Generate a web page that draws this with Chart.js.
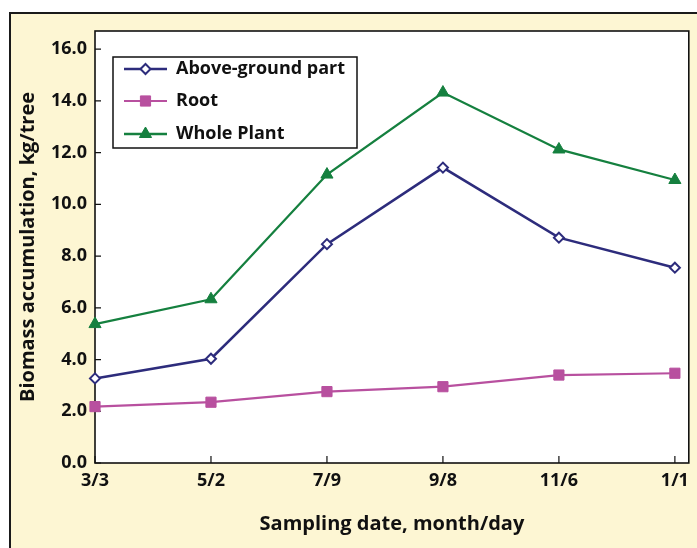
<!DOCTYPE html>
<html>
<head>
<meta charset="utf-8">
<script src="https://cdn.jsdelivr.net/npm/chart.js@4.4.1/dist/chart.umd.min.js"></script>
<style>
  html, body { margin: 0; padding: 0; background: #ffffff; width: 697px; height: 548px; overflow: hidden; }
  #frame { position: absolute; left: 9px; top: 12px; width: 720px; height: 580px; background: #fdf6d3; border: 2px solid #1a1a1a; box-sizing: border-box; }
  #c { position: absolute; left: 0; top: 0; }
</style>
</head>
<body>
<div id="frame"></div>
<canvas id="c" width="697" height="548"></canvas>
<script>
const categories = ['3/3', '5/2', '7/9', '9/8', '11/6', '1/1'];
const aboveGround = [3.27, 4.03, 8.46, 11.42, 8.71, 7.55];
const root = [2.18, 2.35, 2.76, 2.95, 3.40, 3.47];
const wholePlant = [5.37, 6.33, 11.15, 14.32, 12.12, 10.94];
const seriesLabels = ['Above-ground part', 'Root', 'Whole Plant'];
const yTicks = [0, 2, 4, 6, 8, 10, 12, 14, 16];

const FONT = '"Open Sans", Lato, sans-serif';
const toXY = arr => arr.map((v, i) => ({ x: i, y: v }));

const plotFrame = {
  id: 'plotFrame',
  beforeDraw(chart) {
    const { ctx, chartArea: a } = chart;
    ctx.save();
    ctx.fillStyle = '#ffffff';
    ctx.fillRect(a.left, a.top, a.right - a.left, a.bottom - a.top);
    ctx.restore();
  },
  beforeDatasetsDraw(chart) {
    const { ctx, chartArea: a, scales } = chart;
    ctx.save();
    ctx.strokeStyle = '#111111';
    ctx.lineWidth = 1.6;
    ctx.strokeRect(a.left, a.top, a.right - a.left, a.bottom - a.top);
    ctx.lineWidth = 1.2;
    ctx.beginPath();
    yTicks.forEach(v => {
      const y = scales.y.getPixelForValue(v);
      ctx.moveTo(a.left, y); ctx.lineTo(a.left + 6, y);
    });
    categories.forEach((c, i) => {
      const x = scales.x.getPixelForValue(i);
      ctx.moveTo(x, a.bottom); ctx.lineTo(x, a.bottom - 7);
    });
    ctx.stroke();
    ctx.restore();
  },
  afterDraw(chart) {
    const { ctx } = chart;
    const bx = 113, by = 57, bw = 244, bh = 91;
    ctx.save();
    ctx.fillStyle = '#ffffff';
    ctx.fillRect(bx, by, bw, bh);
    ctx.strokeStyle = '#111111';
    ctx.lineWidth = 1.5;
    ctx.strokeRect(bx, by, bw, bh);
    const rows = [69, 101, 134];
    chart.data.datasets.forEach((ds, i) => {
      const y = rows[i];
      ctx.strokeStyle = ds.borderColor;
      ctx.lineWidth = ds.borderWidth;
      ctx.beginPath(); ctx.moveTo(124, y); ctx.lineTo(167, y); ctx.stroke();
      ctx.fillStyle = ds.pointBackgroundColor;
      ctx.strokeStyle = ds.pointBorderColor;
      ctx.lineWidth = ds.pointBorderWidth;
      Chart.helpers.drawPoint(ctx, {
        pointStyle: ds.pointStyle, radius: ds.pointRadius, rotation: 0,
        borderWidth: ds.pointBorderWidth
      }, 145.5, y);
      ctx.fillStyle = '#111111';
      ctx.font = 'bold 18px ' + FONT;
      ctx.textBaseline = 'middle';
      ctx.textAlign = 'left';
      ctx.fillText(ds.label, 176, y);
    });
    ctx.restore();
  }
};

new Chart(document.getElementById('c'), {
  type: 'line',
  data: {
    datasets: [
      {
        label: seriesLabels[0], data: toXY(aboveGround),
        borderColor: '#2d2c7c', borderWidth: 2.5,
        pointStyle: 'rectRot', pointRadius: 5, pointBackgroundColor: '#ffffff',
        pointBorderColor: '#2d2c7c', pointBorderWidth: 2, clip: false, order: 2
      },
      {
        label: seriesLabels[1], data: toXY(root),
        borderColor: '#b8509f', borderWidth: 2.2,
        pointStyle: 'rect', pointRadius: 7.2, pointBackgroundColor: '#b8509f',
        pointBorderColor: '#b8509f', pointBorderWidth: 1, clip: false, order: 3
      },
      {
        label: seriesLabels[2], data: toXY(wholePlant),
        borderColor: '#15803f', borderWidth: 2.3,
        pointStyle: 'triangle', pointRadius: 7, pointBackgroundColor: '#15803f',
        pointBorderColor: '#15803f', pointBorderWidth: 1, clip: false, order: 1
      }
    ]
  },
  options: {
    responsive: false,
    animation: false,
    devicePixelRatio: 1,
    layout: { padding: { left: 0, top: 31, right: 2, bottom: 0 } },
    plugins: { legend: { display: false }, tooltip: { enabled: false } },
    elements: { line: { tension: 0 } },
    scales: {
      x: {
        type: 'linear', min: 0, max: 5.12,
        grid: { display: false, drawTicks: false },
        border: { display: false },
        afterFit: s => { s.height = 85; },
        afterBuildTicks: s => { s.ticks = categories.map((c, i) => ({ value: i })); },
        ticks: {
          padding: 7, color: '#111111', maxRotation: 0, autoSkip: false,
          font: { family: FONT, size: 18, weight: 'bold' },
          callback: v => categories[v]
        },
        title: {
          display: true, text: 'Sampling date, month/day', color: '#111111',
          font: { family: FONT, size: 20, weight: 'bold' },
          padding: { top: 0, bottom: 12 }
        }
      },
      y: {
        type: 'linear', min: 0, max: 16.7,
        grid: { display: false, drawTicks: false },
        border: { display: false },
        afterFit: s => { s.width = 95; },
        afterBuildTicks: s => { s.ticks = yTicks.map(v => ({ value: v })); },
        ticks: {
          padding: 8, color: '#111111',
          font: { family: FONT, size: 18, weight: 'bold' },
          callback: v => v.toFixed(1)
        },
        title: {
          display: true, text: 'Biomass accumulation, kg/tree', color: '#111111',
          font: { family: FONT, size: 20, weight: 'bold' },
          padding: { top: 16, bottom: 0 }
        }
      }
    }
  },
  plugins: [plotFrame]
});
</script>
</body>
</html>
